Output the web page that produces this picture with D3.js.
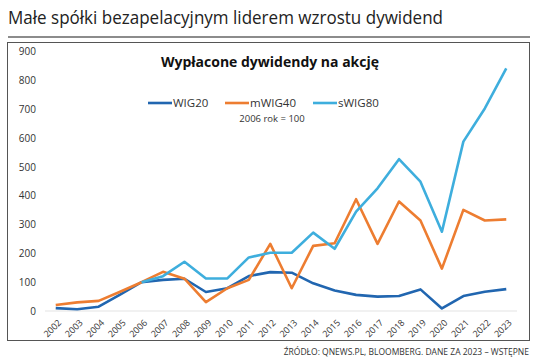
<!DOCTYPE html>
<html><head><meta charset="utf-8">
<script src="https://cdn.jsdelivr.net/npm/d3@7"></script>
<style>body{margin:0;background:#fff}svg{display:block}text{font-family:"Open Sans",sans-serif}</style>
</head><body>
<script>
const years = ["2002","2003","2004","2005","2006","2007","2008","2009","2010","2011","2012","2013","2014","2015","2016","2017","2018","2019","2020","2021","2022","2023"];
const wig20 = [10,6,15,57,100,108,112,66,79,121,135,133,96,71,56,50,52,75,9,52,67,76];
const mwig40 = [21,30,35,67,100,136,112,31,79,108,233,79,226,235,388,233,380,314,147,351,314,318];
const swig80 = [null,null,null,null,100,121,171,113,113,186,202,202,272,216,345,426,527,449,275,588,703,842];
const yTicks = [0,100,200,300,400,500,600,700,800,900];
const seriesNames = ["WIG20","mWIG40","sWIG80"];
const colors = ["#2166b0","#ed7d31","#3eaedd"];

const W=536,H=364;
const svg=d3.select("body").append("svg").attr("width",W).attr("height",H);

svg.append("text").attr("x",8).attr("y",24).attr("font-size",19).attr("fill","#222")
  .attr("textLength",435).attr("lengthAdjust","spacingAndGlyphs")
  .text("Małe spółki bezapelacyjnym liderem wzrostu dywidend");
svg.append("line").attr("x1",8).attr("x2",530).attr("y1",37).attr("y2",37).attr("stroke","#666").attr("stroke-width",1.5);
svg.append("rect").attr("x",7.5).attr("y",42.5).attr("width",522).attr("height",298).attr("fill","none").attr("stroke","#555").attr("stroke-width",1);

const x=d3.scaleBand().domain(years).range([45,517]);
const y=d3.scaleLinear().domain([0,900]).range([311,51.7]);

svg.append("line").attr("x1",45).attr("x2",517).attr("y1",y(0)).attr("y2",y(0)).attr("stroke","#e3e3e3").attr("stroke-width",1);

const ya=svg.append("g").attr("transform","translate(38,0)")
  .call(d3.axisLeft(y).tickValues(yTicks).tickSize(0).tickPadding(2));
ya.select(".domain").remove();
ya.selectAll("text").attr("font-size",10).attr("fill","#333").attr("font-family","Open Sans, sans-serif");

const xa=svg.append("g").attr("transform","translate(0,316)")
  .call(d3.axisBottom(x).tickSize(0).tickPadding(0));
xa.select(".domain").remove();
xa.selectAll("text").attr("font-size",9).attr("fill","#333").attr("font-family","Open Sans, sans-serif")
  .attr("text-anchor","end").attr("dy","0.35em").attr("dx","0")
  .attr("transform","translate(4,5) rotate(-45)");

const data=[wig20,mwig40,swig80];
const line=d3.line().defined(d=>d!=null).x((d,i)=>x(years[i])+x.bandwidth()/2).y(d=>y(d));
data.forEach((s,k)=>{
  svg.append("path").datum(s).attr("d",line).attr("fill","none").attr("stroke",colors[k]).attr("stroke-width",2.6).attr("stroke-linejoin","round");
});

svg.append("text").attr("x",270).attr("y",67).attr("text-anchor","middle").attr("font-size",14).attr("font-weight","bold").attr("fill","#111")
  .text("Wypłacone dywidendy na akcję");

const leg=[{x1:148,x2:172},{x1:225,x2:249},{x1:313,x2:337}];
seriesNames.forEach((n,k)=>{
  svg.append("line").attr("x1",leg[k].x1).attr("x2",leg[k].x2).attr("y1",103).attr("y2",103).attr("stroke",colors[k]).attr("stroke-width",2.6);
  svg.append("text").attr("x",leg[k].x2+1).attr("y",107).attr("font-size",11.5).attr("fill","#333").text(n);
});
svg.append("text").attr("x",272).attr("y",122).attr("text-anchor","middle").attr("font-size",9.5).attr("fill","#333").text("2006 rok = 100");

svg.append("text").attr("x",529).attr("y",355).attr("text-anchor","end").attr("font-size",8.5).attr("fill","#333")
  .attr("font-family","'DejaVu Sans Condensed', 'Open Sans', sans-serif")
  .text("ŹRÓDŁO: QNEWS.PL, BLOOMBERG. DANE ZA 2023 – WSTĘPNE");
</script>
</body></html>
